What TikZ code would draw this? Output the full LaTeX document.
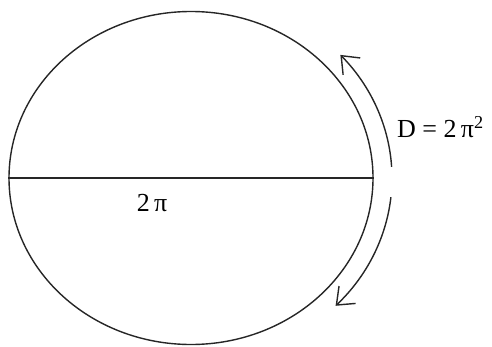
\documentclass[tikz,border=0pt]{standalone}
\usepackage{fontspec}
\setmainfont{Liberation Serif}
\usetikzlibrary{shapes.geometric,arrows.meta}
\begin{document}
\begin{tikzpicture}[x=1pt,y=1pt,
  outline/.style={draw=black!85,line width=1.4pt},
  motion/.style={draw=black!85,line width=1.4pt,-{Straight Barb[length=15pt,width=24pt,line width=1.4pt]}},
  lbl/.style={font=\fontsize{26}{30}\selectfont,inner sep=0pt}]
\useasboundingbox (0,0) rectangle (492,346);
\node[outline,ellipse,minimum width=364pt,minimum height=333pt,inner sep=0pt] (c) at (191,168) {};
\draw[draw=black!85,line width=2pt] (c.west) -- (c.east);
\draw[motion] ([shift={(3.5:201pt and 184pt)}]c.center) arc[start angle=3.5,end angle=42,x radius=201pt,y radius=184pt];
\draw[motion] ([shift={(-6:201pt and 184pt)}]c.center) arc[start angle=-6,end angle=-44,x radius=201pt,y radius=184pt];
\node[lbl,anchor=west] (d) at (397,219) {D = 2\,π\textsuperscript{2}};
\node[lbl] (p) at (152,143) {2\,π};
\end{tikzpicture}
\end{document}
